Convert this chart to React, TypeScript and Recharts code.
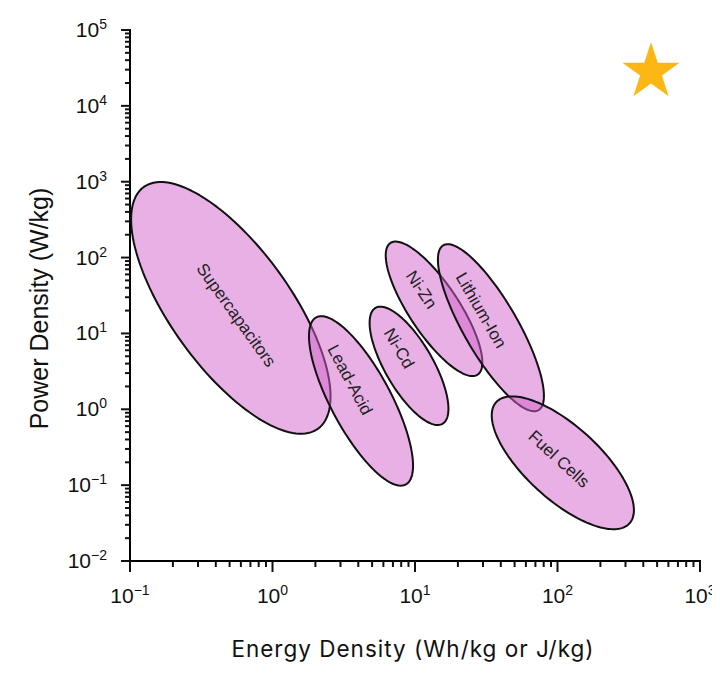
import { ScatterChart, Scatter, XAxis, YAxis, Symbols } from "recharts";

// ---------------------------------------------------------------------------
// Data: energy density (Wh/kg) vs power density (W/kg)
// Each technology is an ellipse in log-log space, given by its centre,
// the lower end of its long axis and one end of its short axis.
// ---------------------------------------------------------------------------

const regions = ["Supercapacitors", "Lead-Acid", "Ni-Cd", "Ni-Zn", "Lithium-Ion", "Fuel Cells"];

const centres: [number, number][] = [
  [0.51, 21.7],
  [4.18, 1.29],
  [9.08, 3.74],
  [13.6, 21.1],
  [34.1, 11.9],
  [109, 0.197],
];

const longEnds: [number, number][] = [
  [2.08, 0.552],
  [8.61, 0.102],
  [15.6, 0.644],
  [27.5, 2.86],
  [73.6, 0.975],
  [320, 0.0313],
];

const shortEnds: [number, number][] = [
  [0.232, 7.55],
  [2.72, 0.843],
  [6.49, 2.6],
  [9.71, 13.9],
  [23.4, 7.87],
  [73.1, 0.0863],
];

// where each name sits along the long axis (0 = centre, -1 = upper end)
const labelShift = [0.06, -0.25, -0.3, -0.29, -0.21, -0.06];

// the star marker in the upper corner
const starPoint = [{ x: 453, y: 28000 }];

// axis ticks: decades (labelled) and the 2..9 steps between them
const xDecades = [-1, 0, 1, 2, 3];
const yDecades = [-2, -1, 0, 1, 2, 3, 4, 5];
const steps = [1, 2, 3, 4, 5, 6, 7, 8, 9];

// ---------------------------------------------------------------------------
// Helpers
// ---------------------------------------------------------------------------

const FILL = "#d161c9";
const INK = "#111";
const TICK_FONT = "'Liberation Sans', Arial, Helvetica, sans-serif";

function logTicks(decades: number[]): number[] {
  const out: number[] = [];
  decades.forEach((d, i) => {
    steps.forEach((s) => {
      if (i === decades.length - 1 && s > 1) return;
      out.push(Number((s * Math.pow(10, d)).toPrecision(3)));
    });
  });
  return out;
}

const xTicks = logTicks(xDecades);
const yTicks = logTicks(yDecades);

function decadeOf(v: number): number | null {
  const l = Math.log10(v);
  return Math.abs(l - Math.round(l)) < 1e-6 ? Math.round(l) : null;
}

const sup = (e: number) => String(e).replace("-", "\u2212");

/** Outline of one region, sampled in log space so the axes' scales place it */
function ellipsePoints(i: number) {
  const [cx, cy] = centres[i].map(Math.log10);
  const [ax, ay] = longEnds[i].map(Math.log10);
  const [bx, by] = shortEnds[i].map(Math.log10);
  const n = 144;
  const pts: { x: number; y: number }[] = [];
  for (let k = 0; k < n; k++) {
    const t = (k / n) * Math.PI * 2;
    const c = Math.cos(t);
    const s = Math.sin(t);
    pts.push({
      x: Math.pow(10, cx + (ax - cx) * c + (bx - cx) * s),
      y: Math.pow(10, cy + (ay - cy) * c + (by - cy) * s),
    });
  }
  return pts;
}

const NoMarker = () => <g />;

/** Draws the closed, filled outline plus the rotated name */
function regionOutline(name: string, shift: number) {
  return (props: any) => {
    const pts: { x: number; y: number }[] = props.points || [];
    if (!pts.length) return <g />;
    const d = pts.map((p, i) => `${i ? "L" : "M"}${p.x},${p.y}`).join("") + "Z";
    const mx = pts.reduce((a, p) => a + p.x, 0) / pts.length;
    const my = pts.reduce((a, p) => a + p.y, 0) / pts.length;
    const tip = pts[0];
    const angle = (Math.atan2(tip.y - my, tip.x - mx) * 180) / Math.PI;
    const lx = mx + shift * (tip.x - mx);
    const ly = my + shift * (tip.y - my);
    return (
      <g>
        <path d={d} fill={FILL} fillOpacity={0.5} stroke={INK} strokeWidth={2} strokeLinejoin="round" />
        <text
          x={lx}
          y={ly}
          textAnchor="middle"
          dominantBaseline="central"
          transform={`rotate(${angle}, ${lx}, ${ly})`}
          fontFamily={TICK_FONT}
          fontSize={17}
          fill="#222"
        >
          {name}
        </text>
      </g>
    );
  };
}

function StarMark(props: any) {
  return <Symbols cx={props.cx} cy={props.cy} type="star" size={1010} fill="#fcb714" />;
}

// ---------------------------------------------------------------------------
// Tick renderers (ticks point outward on all four sides)
// ---------------------------------------------------------------------------

function BottomTick({ x, y, payload }: any) {
  const e = decadeOf(payload.value);
  return (
    <g>
      <line x1={x} x2={x} y1={y} y2={y + (e !== null ? 11 : 6)} stroke={INK} strokeWidth={2} />
      {e !== null && (
        <text x={x} y={y + 42} textAnchor="middle" fontFamily={TICK_FONT} fontSize={21} fill={INK}>
          10<tspan dy={-8} fontSize={14}>{sup(e)}</tspan>
        </text>
      )}
    </g>
  );
}

function LeftTick({ x, y, payload }: any) {
  const e = decadeOf(payload.value);
  return (
    <g>
      <line x1={x - (e !== null ? 9 : 5)} x2={x} y1={y} y2={y} stroke={INK} strokeWidth={2} />
      {e !== null && (
        <text x={x - 23} y={y + 7} textAnchor="end" fontFamily={TICK_FONT} fontSize={21} fill={INK}>
          10<tspan dy={-8} fontSize={14}>{sup(e)}</tspan>
        </text>
      )}
    </g>
  );
}

function TopTick({ x, y, payload }: any) {
  const major = decadeOf(payload.value) !== null;
  return <line x1={x} x2={x} y1={y} y2={y - (major ? 10 : 5)} stroke={INK} strokeWidth={2} />;
}

function RightTick({ x, y, payload }: any) {
  const major = decadeOf(payload.value) !== null;
  return <line x1={x} x2={x + (major ? 10 : 6)} y1={y} y2={y} stroke={INK} strokeWidth={2} />;
}

// ---------------------------------------------------------------------------
// Axis titles
// ---------------------------------------------------------------------------

function XTitle({ viewBox }: any) {
  const cx = viewBox.x + viewBox.width / 2 - 2;
  return (
    <text
      x={cx}
      y={viewBox.y + 96}
      textAnchor="middle"
      fontFamily="Inter, 'Open Sans', sans-serif"
      fontSize={22.5}
      letterSpacing={1}
      fill={INK}
    >
      Energy Density (Wh/kg or J/kg)
    </text>
  );
}

function YTitle({ viewBox }: any) {
  const cy = viewBox.y + viewBox.height / 2 + 13;
  const x = 48;
  return (
    <text
      x={x}
      y={cy}
      textAnchor="middle"
      transform={`rotate(-90, ${x}, ${cy})`}
      fontFamily={TICK_FONT}
      fontSize={25}
      fill={INK}
    >
      Power Density (W/kg)
    </text>
  );
}

// ---------------------------------------------------------------------------
// Component
// ---------------------------------------------------------------------------

const axisLine = { stroke: "#000", strokeWidth: 2, strokeLinecap: "square" as const };

export default function App() {
  return (
    <div style={{ width: 720, height: 673, margin: -8, background: "#fff" }}>
      <ScatterChart
        width={720}
        height={673}
        margin={{ top: 30, right: 20, bottom: 0, left: 0 }}
        style={{ overflow: "visible" }}
      >
        <XAxis
          xAxisId={0}
          dataKey="x"
          type="number"
          scale="log"
          domain={[0.1, 1000]}
          allowDataOverflow
          ticks={xTicks}
          interval={0}
          height={112}
          tickSize={0}
          tickMargin={0}
          tickLine={false}
          axisLine={axisLine}
          tick={<BottomTick />}
          label={<XTitle />}
        />
        <XAxis
          xAxisId="top"
          orientation="top"
          dataKey="x"
          type="number"
          scale="log"
          domain={[0.1, 1000]}
          allowDataOverflow
          ticks={xTicks}
          interval={0}
          height={0}
          tickSize={0}
          tickMargin={0}
          tickLine={false}
          axisLine={axisLine}
          tick={<TopTick />}
        />
        <YAxis
          yAxisId={0}
          dataKey="y"
          type="number"
          scale="log"
          domain={[0.01, 100000]}
          allowDataOverflow
          ticks={yTicks}
          interval={0}
          width={130}
          tickSize={0}
          tickMargin={0}
          tickLine={false}
          axisLine={axisLine}
          tick={<LeftTick />}
          label={<YTitle />}
        />
        <YAxis
          yAxisId="right"
          orientation="right"
          dataKey="y"
          type="number"
          scale="log"
          domain={[0.01, 100000]}
          allowDataOverflow
          ticks={yTicks}
          interval={0}
          width={0}
          tickSize={0}
          tickMargin={0}
          tickLine={false}
          axisLine={axisLine}
          tick={<RightTick />}
        />

        {regions.map((name, i) => (
          <Scatter
            key={name}
            name={name}
            xAxisId={0}
            yAxisId={0}
            data={ellipsePoints(i)}
            line={regionOutline(name, labelShift[i])}
            lineType="joint"
            shape={NoMarker}
            isAnimationActive={false}
          />
        ))}

        <Scatter
          name="star"
          xAxisId="top"
          yAxisId="right"
          data={starPoint}
          shape={StarMark}
          isAnimationActive={false}
        />
      </ScatterChart>
    </div>
  );
}
